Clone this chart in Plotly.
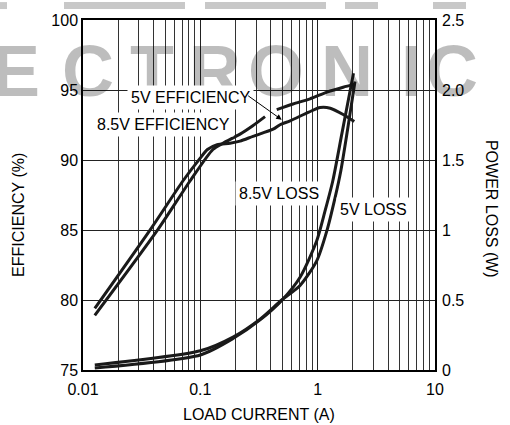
import plotly.graph_objects as go

# ---- data ----
eff5_current = [0.0126, 0.038, 0.071, 0.099, 0.115, 0.139, 0.179, 0.218, 0.281, 0.417, 0.478, 0.582, 0.84, 1.05, 1.28, 1.65, 2.05]
eff5_values = [79.4, 85.1, 88.5, 90.1, 90.75, 91.1, 91.2, 91.35, 91.69, 92.2, 92.52, 92.8, 93.42, 93.75, 93.7, 93.25, 92.75]

eff85_current = [0.0126, 0.0428, 0.0817, 0.128, 0.156, 0.218, 0.28, 0.356, None, 0.448, 0.617, 0.861, 1.2, 1.65, 2.05]
eff85_values = [78.9, 84.95, 88.5, 90.75, 91.2, 91.85, 92.45, 93.1, None, 93.6, 94.0, 94.37, 94.85, 95.2, 95.4]

loss85_current = [0.0126, 0.1, 0.19, 0.325, 0.494, 0.708, 0.982, 1.156, 1.345, 1.61, 2.02]
loss85_values = [0.014, 0.107, 0.225, 0.36, 0.497, 0.663, 0.923, 1.136, 1.35, 1.69, 2.12]

loss5_current = [0.0126, 0.1, 0.19, 0.325, 0.494, 0.708, 0.982, 1.197, 1.406, 1.573, 1.80, 2.08]
loss5_values = [0.036, 0.137, 0.235, 0.365, 0.50, 0.604, 0.78, 0.994, 1.23, 1.42, 1.72, 2.06]

x_tickvals = [0.01, 0.1, 1, 10]
x_ticktext = ["0.01", "0.1", "1", "10"]
y_tickvals = [75, 80, 85, 90, 95, 100]
y2_tickvals = [0, 0.5, 1, 1.5, 2.0, 2.5]
y2_ticktext = ["0", "0.5", "1", "1.5", "2.0", "2.5"]

watermark_letters = ["E", "C", "T", "R", "O", "N", "I", "C"]

# ---- layout helpers (pixel -> paper) ----
W, H = 510, 425
ML, MR, MT, MB = 83, 75, 18, 55
PW, PH = W - ML - MR, H - MT - MB


def pxx(px):
    return (px - ML) / PW


def pxy(py):
    return (H - MB - py) / PH


FONT = "Liberation Sans, Arial, sans-serif"
FS = 16
LINE = dict(color="#1a1a1a", width=3, shape="spline", smoothing=0.7)

fig = go.Figure()
fig.add_trace(go.Scatter(x=eff5_current, y=eff5_values, mode="lines", line=LINE,
                         connectgaps=False, showlegend=False))
fig.add_trace(go.Scatter(x=eff85_current, y=eff85_values, mode="lines", line=LINE,
                         connectgaps=False, showlegend=False))
fig.add_trace(go.Scatter(x=loss85_current, y=loss85_values, mode="lines", line=LINE,
                         yaxis="y2", showlegend=False))
fig.add_trace(go.Scatter(x=loss5_current, y=loss5_values, mode="lines", line=LINE,
                         yaxis="y2", showlegend=False))

annotations = []
# watermark letters (semi-transparent so black lines stay black)
wm_x = [16, 88, 152, 215, 276, 347, 411, 452]
for ch, cx in zip(watermark_letters, wm_x):
    annotations.append(dict(text="<b>" + ch + "</b>", xref="paper", yref="paper",
                            x=pxx(cx), y=pxy(69), xanchor="center", yanchor="middle",
                            showarrow=False,
                            font=dict(family=FONT, size=72, color="rgba(0,0,0,0.26)")))

# curve labels
labels = [("5V EFFICIENCY", 190, 96), ("8.5V EFFICIENCY", 163, 123),
          ("8.5V LOSS", 279, 192), ("5V LOSS", 373, 209)]
for txt, cx, cy in labels:
    annotations.append(dict(text=txt, xref="paper", yref="paper", x=pxx(cx), y=pxy(cy),
                            xanchor="center", yanchor="middle", showarrow=False,
                            bgcolor="white", borderpad=3,
                            font=dict(family=FONT, size=FS, color="black")))

# arrow from 5V EFFICIENCY label to the 5V curve
annotations.append(dict(text="", xref="paper", yref="paper", x=pxx(281.7), y=pxy(118.3),
                        ax=-35, ay=-25, showarrow=True, arrowhead=2, arrowsize=1.1,
                        arrowwidth=1, arrowcolor="black"))

# axis titles
annotations.append(dict(text="LOAD CURRENT (A)", xref="paper", yref="paper",
                        x=pxx(259), y=pxy(415), xanchor="center", yanchor="middle",
                        showarrow=False, font=dict(family=FONT, size=FS, color="black")))
annotations.append(dict(text="EFFICIENCY (%)", xref="paper", yref="paper",
                        x=pxx(19), y=pxy(214), xanchor="center", yanchor="middle",
                        textangle=-90, showarrow=False,
                        font=dict(family=FONT, size=FS, color="black")))
annotations.append(dict(text="POWER LOSS (W)", xref="paper", yref="paper",
                        x=pxx(491), y=pxy(208), xanchor="center", yanchor="middle",
                        textangle=90, showarrow=False,
                        font=dict(family=FONT, size=FS, color="black")))

# partial watermark bars along the very top
shapes = []
for x0, x1 in [(0, 7), (64, 185), (205, 326), (345, 378), (433, 466)]:
    shapes.append(dict(type="rect", xref="paper", yref="paper",
                       x0=pxx(x0), x1=pxx(x1), y0=pxy(7), y1=pxy(0),
                       fillcolor="#c8c8c8", line=dict(width=0), layer="below"))

fig.update_layout(
    width=W, height=H,
    margin=dict(l=ML, r=MR, t=MT, b=MB, pad=0),
    paper_bgcolor="white", plot_bgcolor="white",
    font=dict(family=FONT, size=FS, color="black"),
    showlegend=False,
    xaxis=dict(type="log", range=[-2, 1], tickvals=x_tickvals, ticktext=x_ticktext,
               showgrid=True, gridcolor="#222", gridwidth=1,
               minor=dict(dtick="D1", showgrid=True, gridcolor="#333", gridwidth=1, ticks=""),
               showline=True, linecolor="black", linewidth=1.5, mirror=True,
               ticks="", zeroline=False, tickfont=dict(size=FS), ticklabelstandoff=4),
    yaxis=dict(range=[75, 100], tickvals=y_tickvals, showgrid=True, gridcolor="#222",
               gridwidth=1, showline=True, linecolor="black", linewidth=1.5, mirror=True,
               ticks="", zeroline=False, tickfont=dict(size=FS)),
    yaxis2=dict(range=[0, 2.5], tickvals=y2_tickvals, ticktext=y2_ticktext,
                overlaying="y", side="right", showgrid=False, ticks="", zeroline=False,
                showline=False, tickfont=dict(size=FS), ticklabelstandoff=6),
    annotations=annotations,
    shapes=shapes,
)

fig.write_html("out.html", config={"displayModeBar": False},
               post_script="document.body.style.margin='0px';"
                           "document.body.style.overflow='hidden';")
